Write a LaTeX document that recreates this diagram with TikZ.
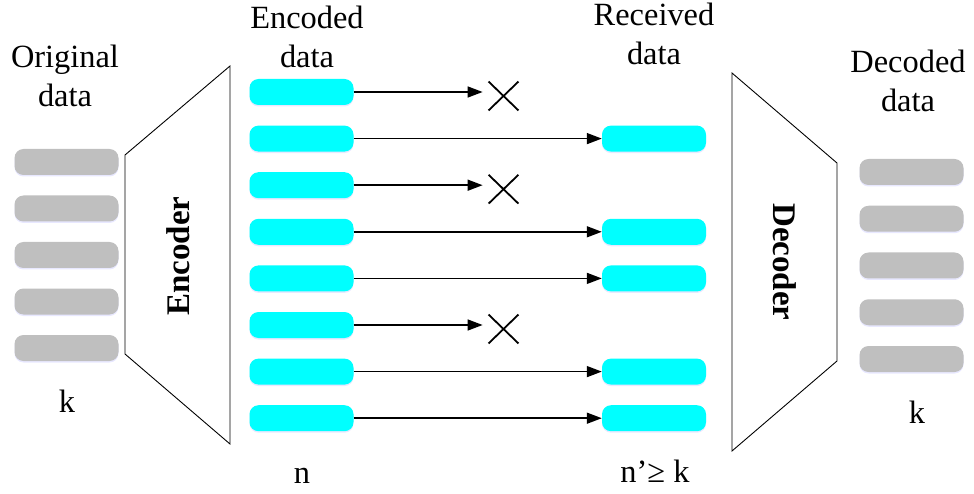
\documentclass[tikz,border=0pt]{standalone}
\usepackage{fontspec}
\setmainfont{Liberation Serif}
\usetikzlibrary{arrows.meta,shapes.misc,shadows}
\definecolor{bargray}{HTML}{BFBFBF}
\definecolor{barcyan}{HTML}{00FFFF}
\tikzset{
  bar/.style={rectangle, rounded corners=9pt, minimum width=104pt, minimum height=26pt, inner sep=0pt,
    drop shadow={shadow xshift=0pt, shadow yshift=-1.5pt, fill=blue!30, opacity=0.3}},
  plainbar/.style={bar, fill=bargray},
  codedbar/.style={bar, fill=barcyan},
  lbl/.style={align=center, font=\fontsize{32.4}{39}\selectfont, inner sep=0pt, anchor=base},
  flow/.style={line width=1.5pt, -{Triangle[length=15pt,width=11pt]}},
  lost/.style={cross out, draw, line width=1.8pt, minimum width=28pt, minimum height=27pt, inner sep=0pt},
  coderbox/.style={draw, line width=0.9pt, fill=white},
  codername/.style={font=\fontsize{33}{38}\selectfont\bfseries}
}
\begin{document}
\begin{tikzpicture}[x=1pt, y=-1pt]
    \useasboundingbox (0,0) rectangle (974,494);

    % encoder and decoder
    \coordinate (enc1) at (125,155);
    \coordinate (enc2) at (230,66);
    \coordinate (enc3) at (230,444);
    \coordinate (enc4) at (125,354);
    \draw[coderbox] (enc1) -- (enc2) -- (enc3) -- (enc4) -- cycle;
    \node[codername, rotate=90] (enc) at (178,256) {Encoder};

    \coordinate (dec1) at (732,73);
    \coordinate (dec2) at (837,163);
    \coordinate (dec3) at (837,361);
    \coordinate (dec4) at (732,451);
    \draw[coderbox] (dec1) -- (dec2) -- (dec3) -- (dec4) -- cycle;
    \node[codername, rotate=-90] (dec) at (785,262) {Decoder};

    % data blocks
    \foreach \i in {1,...,5} {
        \node[plainbar] (o\i) at (66.5,{162+46.5*(\i-1)}) {};
        \node[plainbar] (d\i) at (911.5,{172+46.75*(\i-1)}) {};
    }
    \foreach \i in {1,...,8}
        \node[codedbar] (e\i) at (301.5,{92+46.6*(\i-1)}) {};

    % received and lost
    \foreach \i in {2,4,5,7,8} {
        \node[codedbar] (r\i) at (654,{92+46.6*(\i-1)}) {};
        \draw[flow] (e\i.east) -- (r\i.west);
    }
    \foreach \i in {1,3,6} {
        \node[lost] (x\i) at (503.5,{96+46.6*(\i-1)}) {};
        \draw[flow, shorten >=6pt] (e\i.east) -- (e\i.east -| x\i.west);
    }

    % labels (base = last line)
    \node[lbl] (orig) at (65,107) {Original\\data};
    \node[lbl] (encd) at (307,68) {Encoded\\data};
    \node[lbl] (recv) at (654,65) {Received\\data};
    \node[lbl] (decd) at (908,112) {Decoded\\data};
    \node[lbl] (k1) at (67,412) {k};
    \node[lbl] (n) at (302,483) {n};
    \node[lbl] (n2) at (655,482) {n’≥ k};
    \node[lbl] (k2) at (917,423) {k};

\end{tikzpicture}
\end{document}
